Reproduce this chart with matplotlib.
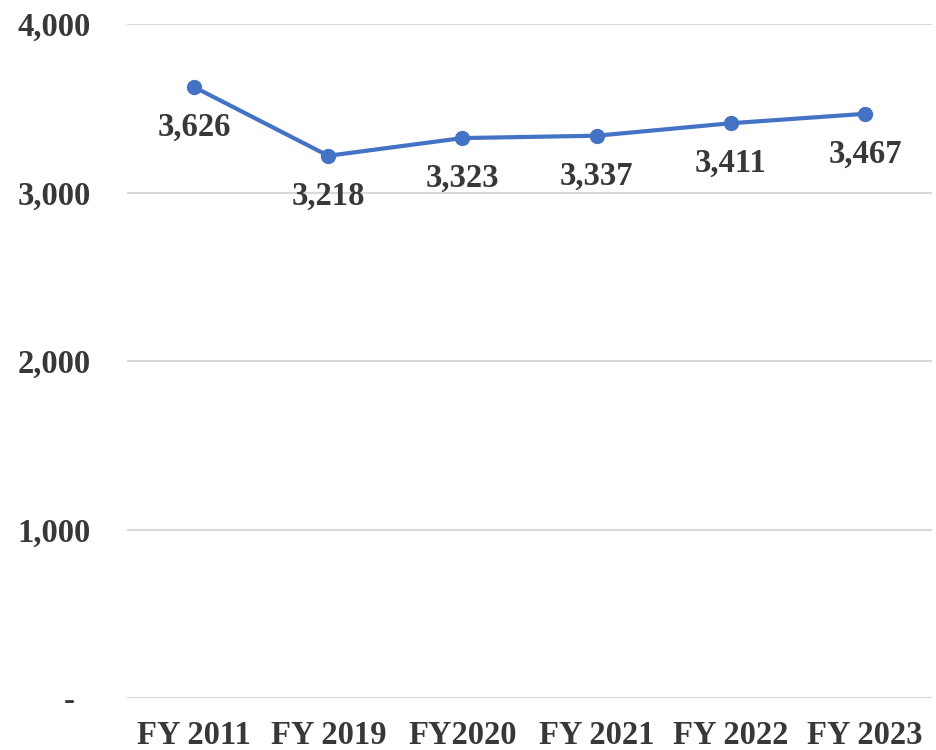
import matplotlib.pyplot as plt
import numpy as np

# %% Data
years = ['FY 2011', 'FY 2019', 'FY2020', 'FY 2021', 'FY 2022', 'FY 2023']
values = [3626, 3218, 3323, 3337, 3411, 3467]
yticks = [0, 1000, 2000, 3000, 4000]
ytick_labels = ['-  ', '1,000', '2,000', '3,000', '4,000']

# %% Style
plt.rcParams['font.family'] = ['Liberation Serif', 'DejaVu Serif']
plt.rcParams['font.weight'] = 'bold'
txt_color = '#383838'
line_color = '#4472C4'
fs = 23.5

fig = plt.figure(figsize=(9.36, 7.5), dpi=100)
ax = fig.add_axes([0.1357, 0.0693, 0.86, 0.8987])

x = np.arange(len(years))
ax.plot(x, values, color=line_color, linewidth=3, marker='o',
        markersize=10, zorder=3)

# data labels below each point
for xi, v in zip(x, values):
    ax.annotate(f'{v:,}', (xi, v), xytext=(0, -29), textcoords='offset points',
                ha='center', va='center', fontsize=fs, fontweight='bold',
                color=txt_color)

ax.set_xlim(-0.5, len(years) - 0.5)
ax.set_ylim(0, 4000)
ax.set_xticks(x)
ax.set_xticklabels(years)
ax.set_yticks(yticks)
ax.set_yticklabels(ytick_labels)

ax.tick_params(axis='both', length=0, labelsize=fs, labelcolor=txt_color)
ax.tick_params(axis='y', pad=26)
ax.tick_params(axis='x', pad=16)
for lab in ax.get_xticklabels() + ax.get_yticklabels():
    lab.set_fontweight('bold')

ax.grid(axis='y', color='#D9D9D9', linewidth=1.5)
ax.set_axisbelow(True)
for s in ax.spines.values():
    s.set_visible(False)

plt.savefig('out.png', dpi=100)
